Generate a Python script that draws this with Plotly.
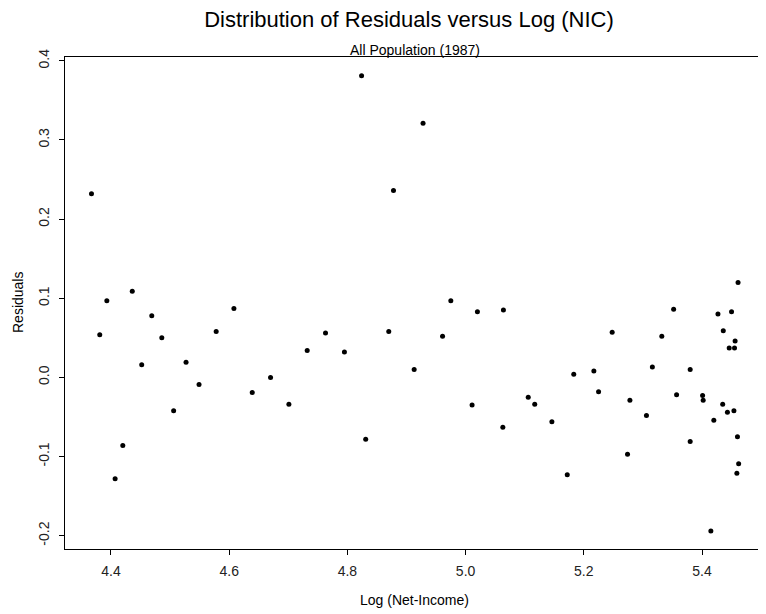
import plotly.graph_objects as go

# Log (Net-Income) and residuals
log_nic = [4.367, 4.393, 4.436, 4.469, 4.381, 4.486, 4.452, 4.527, 4.549, 4.506,
           4.420, 4.407, 4.824, 4.928, 4.878, 4.608, 4.975, 5.020, 4.578, 4.763,
           4.870, 4.961, 4.732, 4.795, 4.913, 4.670, 4.639, 4.701, 4.831, 5.011,
           5.461, 5.064, 5.352, 5.427, 5.450, 5.436, 5.248, 5.332, 5.456, 5.446,
           5.455, 5.316, 5.380, 5.183, 5.217, 5.225, 5.357, 5.106, 5.117, 5.278,
           5.401, 5.402, 5.435, 5.443, 5.454, 5.306, 5.146, 5.420, 5.063, 5.460,
           5.380, 5.274, 5.462, 5.459, 5.172, 5.415]
residuals = [0.232, 0.097, 0.109, 0.078, 0.054, 0.050, 0.016, 0.019, -0.009, -0.042,
             -0.086, -0.128, 0.381, 0.321, 0.236, 0.087, 0.097, 0.083, 0.058, 0.056,
             0.058, 0.052, 0.034, 0.032, 0.010, 0.000, -0.019, -0.034, -0.078, -0.035,
             0.120, 0.085, 0.086, 0.080, 0.083, 0.059, 0.057, 0.052, 0.046, 0.037,
             0.037, 0.013, 0.010, 0.004, 0.008, -0.018, -0.022, -0.025, -0.034, -0.029,
             -0.023, -0.029, -0.034, -0.044, -0.042, -0.048, -0.056, -0.054, -0.063, -0.075,
             -0.081, -0.097, -0.109, -0.121, -0.123, -0.194]

x_ticks = [4.4, 4.6, 4.8, 5.0, 5.2, 5.4]
x_labels = ["4.4", "4.6", "4.8", "5.0", "5.2", "5.4"]
y_ticks = [-0.2, -0.1, 0.0, 0.1, 0.2, 0.3, 0.4]
y_labels = ["-0.2", "-0.1", "0.0", "0.1", "0.2", "0.3", "0.4"]

font = "Liberation Sans, Arial, Helvetica, sans-serif"

fig = go.Figure(go.Scatter(x=log_nic, y=residuals, mode="markers",
                           marker=dict(size=5, color="black"), showlegend=False))

axis_style = dict(showgrid=False, zeroline=False, showline=True, linecolor="black",
                  linewidth=1, mirror=True, ticks="outside", ticklen=5,
                  tickcolor="black", tickfont=dict(size=14, color="#222"))

fig.update_xaxes(range=[4.3222, 5.5049], tickvals=x_ticks, ticktext=x_labels,
                 ticklabelstandoff=4, **axis_style)
fig.update_yaxes(range=[-0.2168, 0.4048], tickvals=y_ticks, ticktext=y_labels,
                 tickangle=-90, ticklabelstandoff=4, **axis_style)

# page body adds an 8px offset, so the figure is 8px smaller each way
fig.update_layout(
    width=758, height=606,
    margin=dict(l=57, r=2, t=49, b=65),
    plot_bgcolor="white", paper_bgcolor="white",
    font=dict(family=font, color="black"),
    title=dict(text="Distribution of Residuals versus Log (NIC)", x=0.529, xanchor="center",
               yref="container", y=1 - 11 / 606, yanchor="middle",
               font=dict(size=22, color="black")),
    annotations=[
        dict(text="All Population (1987)", xref="paper", yref="paper", x=0.5, y=1,
             xanchor="center", yanchor="bottom", yshift=-3, showarrow=False,
             font=dict(size=14, color="black")),
        dict(text="Log (Net-Income)", xref="paper", yref="paper", x=0.5, y=0,
             xanchor="center", yanchor="middle", yshift=-51, showarrow=False,
             font=dict(size=14, color="black")),
        dict(text="Residuals", xref="paper", yref="paper", x=0, y=0.5,
             xanchor="center", yanchor="middle", xshift=-47, textangle=-90,
             showarrow=False, font=dict(size=14, color="black")),
    ],
)

fig.write_html("out.html")
